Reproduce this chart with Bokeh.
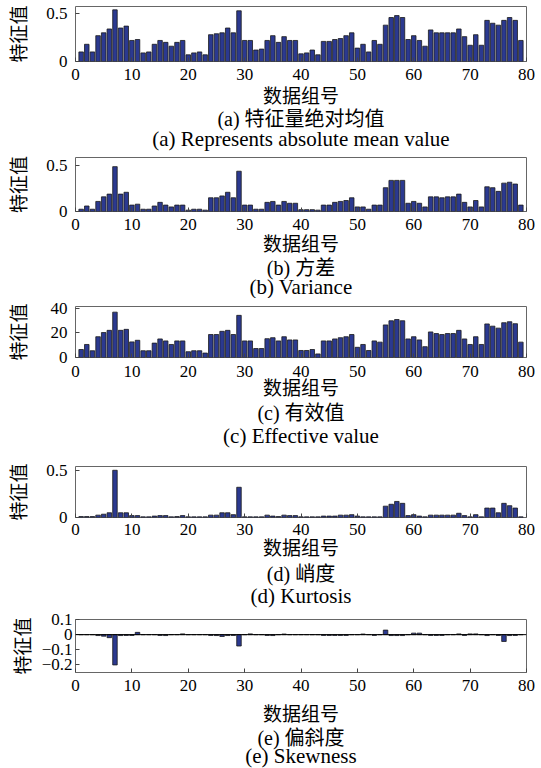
from bokeh.plotting import figure
from bokeh.layouts import column
from bokeh.models import Title, FixedTicker, Range1d, Span
from bokeh.embed import file_html
from bokeh.resources import INLINE

groups = list(range(1, 80))

mean_abs = [0.10, 0.18, 0.10, 0.27, 0.30, 0.34, 0.54, 0.35, 0.37, 0.22,
            0.23, 0.09, 0.10, 0.18, 0.22, 0.20, 0.16, 0.20, 0.22, 0.07,
            0.09, 0.10, 0.07, 0.28, 0.29, 0.30, 0.35, 0.30, 0.53, 0.22,
            0.22, 0.12, 0.13, 0.22, 0.27, 0.20, 0.26, 0.22, 0.22, 0.08,
            0.09, 0.12, 0.07, 0.21, 0.21, 0.23, 0.24, 0.27, 0.30, 0.14,
            0.18, 0.10, 0.22, 0.18, 0.38, 0.46, 0.48, 0.46, 0.23, 0.27,
            0.22, 0.16, 0.33, 0.30, 0.30, 0.30, 0.30, 0.34, 0.26, 0.17,
            0.28, 0.17, 0.43, 0.40, 0.38, 0.43, 0.46, 0.43, 0.22]

variance = [0.025, 0.06, 0.025, 0.11, 0.16, 0.19, 0.49, 0.19, 0.21, 0.07,
            0.08, 0.025, 0.025, 0.06, 0.10, 0.07, 0.05, 0.07, 0.07, 0.015,
            0.025, 0.025, 0.015, 0.15, 0.15, 0.17, 0.21, 0.15, 0.44, 0.07,
            0.07, 0.025, 0.025, 0.10, 0.11, 0.07, 0.11, 0.09, 0.09, 0.02,
            0.02, 0.02, 0.015, 0.07, 0.07, 0.10, 0.11, 0.12, 0.15, 0.05,
            0.05, 0.025, 0.07, 0.07, 0.26, 0.34, 0.34, 0.34, 0.09, 0.11,
            0.09, 0.05, 0.16, 0.16, 0.15, 0.16, 0.16, 0.19, 0.10, 0.05,
            0.12, 0.05, 0.27, 0.26, 0.22, 0.31, 0.32, 0.30, 0.07]

effective = [6.5, 10.6, 5.5, 16.9, 20.3, 22.1, 36.9, 22.1, 22.9, 12.7,
             14.0, 5.5, 5.5, 11.7, 15.1, 13.5, 10.6, 13.5, 13.5, 4.7,
             5.5, 5.5, 3.6, 18.7, 18.7, 21.3, 22.1, 18.7, 34.3, 13.5,
             13.5, 7.3, 7.3, 15.3, 16.1, 13.5, 16.9, 14.3, 14.3, 5.7,
             5.7, 6.5, 2.9, 13.5, 13.5, 15.1, 16.1, 16.9, 18.7, 8.3,
             10.6, 5.7, 13.5, 12.5, 26.5, 29.9, 30.9, 29.9, 15.1, 16.9,
             14.3, 8.8, 20.8, 19.5, 18.7, 19.5, 19.5, 22.1, 15.1, 10.6,
             16.9, 10.6, 27.3, 25.5, 23.9, 28.3, 29.1, 27.5, 12.5]

kurtosis = [0.01, 0.01, 0.01, 0.025, 0.035, 0.05, 0.50, 0.05, 0.05, 0.02,
            0.02, 0.007, 0.007, 0.015, 0.02, 0.02, 0.007, 0.01, 0.02, 0.007,
            0.007, 0.007, 0.007, 0.025, 0.025, 0.05, 0.05, 0.03, 0.32, 0.007,
            0.007, 0.007, 0.007, 0.025, 0.015, 0.01, 0.025, 0.02, 0.02, 0.007,
            0.007, 0.007, 0.007, 0.015, 0.015, 0.015, 0.025, 0.025, 0.03, 0.015,
            0.007, 0.007, 0.007, 0.007, 0.12, 0.14, 0.17, 0.15, 0.02, 0.03,
            0.015, 0.007, 0.025, 0.025, 0.025, 0.025, 0.025, 0.045, 0.02, 0.007,
            0.03, 0.007, 0.10, 0.10, 0.05, 0.15, 0.125, 0.10, 0.007]

skewness = [0, 0, 0, -0.006, -0.01, -0.02, -0.20, -0.006, -0.005, -0.005,
            0.015, 0, 0, 0, -0.005, -0.006, 0, 0, 0.005, 0,
            0, 0, 0, -0.005, -0.006, -0.012, -0.006, -0.005, -0.075, 0,
            0.005, 0, 0, -0.005, -0.006, 0, 0.004, 0, 0, 0,
            0, 0, 0, -0.005, -0.005, -0.005, -0.005, -0.005, 0, 0,
            0.004, 0, -0.005, 0, 0.03, -0.006, -0.006, -0.006, 0, 0.01,
            0.01, 0, -0.005, -0.005, -0.005, 0, 0, 0.005, -0.005, 0.005,
            0.005, 0, -0.006, 0, -0.005, -0.045, -0.006, -0.005, 0]

x_ticks = [0, 10, 20, 30, 40, 50, 60, 70, 80]
x_label = "数据组号"
y_label = "特征值"

SERIF = "Liberation Serif"
MIXED = "Liberation Serif, Noto Sans CJK SC"
CJK = "Noto Sans CJK SC"
BAR_FILL = "#2B3990"


def make_panel(values, height, top, bottom, ymax, ymin, yticks, ylabels,
               ylab_standoff, ytick_standoff, xtick_standoff, xlab_standoff,
               cap1, cap2, cap1_standoff, cap2_standoff, zero_line=False):
    p = figure(width=541, height=height, output_backend="svg",
               toolbar_location=None, x_range=Range1d(0, 80),
               y_range=Range1d(ymin, ymax),
               min_border_left=71, min_border_right=15,
               min_border_top=top, min_border_bottom=bottom)
    p.vbar(x=groups, top=values, width=0.8, bottom=0,
           fill_color=BAR_FILL, line_color="#1a1a1a", line_width=0.8)
    if zero_line:
        p.add_layout(Span(location=0, dimension="width",
                          line_color="black", line_width=1))
    p.grid.visible = False
    p.outline_line_color = "#666666"
    p.outline_line_width = 1
    p.background_fill_color = "white"
    p.border_fill_color = "white"

    xa = p.xaxis[0]
    xa.ticker = FixedTicker(ticks=x_ticks)
    xa.major_tick_in = 4
    xa.major_tick_out = 0
    xa.minor_tick_line_color = None
    xa.axis_line_color = None
    xa.major_tick_line_color = "#444444"
    xa.major_label_text_font = SERIF
    xa.major_label_text_font_size = "17px"
    xa.major_label_text_color = "black"
    xa.major_label_standoff = xtick_standoff
    xa.axis_label = x_label
    xa.axis_label_text_font = CJK
    xa.axis_label_text_font_size = "19px"
    xa.axis_label_text_font_style = "normal"
    xa.axis_label_text_color = "black"
    xa.axis_label_standoff = xlab_standoff

    ya = p.yaxis[0]
    ya.ticker = FixedTicker(ticks=yticks)
    ya.major_label_overrides = ylabels
    ya.major_tick_in = 4
    ya.major_tick_out = 0
    ya.minor_tick_line_color = None
    ya.axis_line_color = None
    ya.major_tick_line_color = "#444444"
    ya.major_label_text_font = SERIF
    ya.major_label_text_font_size = "17px"
    ya.major_label_text_color = "black"
    ya.major_label_standoff = ytick_standoff
    ya.axis_label = y_label
    ya.axis_label_text_font = CJK
    ya.axis_label_text_font_size = "19px"
    ya.axis_label_text_font_style = "normal"
    ya.axis_label_text_color = "black"
    ya.axis_label_standoff = ylab_standoff

    t1 = Title(text=cap1, align="center", text_font=MIXED,
               text_font_size="20px", text_font_style="normal",
               text_color="black", standoff=cap1_standoff, offset=12)
    t2 = Title(text=cap2, align="center", text_font=SERIF,
               text_font_size="21px", text_font_style="normal",
               text_color="black", standoff=cap2_standoff, offset=12)
    p.add_layout(t1, "below")
    p.add_layout(t2, "below")
    return p


p1 = make_panel(mean_abs, 152, 6, 91, 0.575, 0, [0, 0.5], {0: "0", 0.5: "0.5"},
                12, 8, 7, -2, "(a) 特征量绝对均值", "(a) Represents absolute mean value", -9, -2.5)
p2 = make_panel(variance, 146, 5, 87, 0.59, 0, [0, 0.5], {0: "0", 0.5: "0.5"},
                12, 8, 7, -4, "(b) 方差", "(b) Variance", -7, -6.5)
p3 = make_panel(effective, 152, 8, 93, 41.5, 0, [0, 20, 40], {0: "0", 20: "20", 40: "40"},
                17, 8, 8, -7, "(c) 有效值", "(c) Effective value", -6, 2.5)
p4 = make_panel(kurtosis, 158, 16, 91, 0.54, 0, [0, 0.5], {0: "0", 0.5: "0.5"},
                12, 8, 6, -5, "(d) 峭度", "(d) Kurtosis", -4, -1.5)
p5 = make_panel(skewness, 160, 11, 96, 0.1, -0.25, [-0.2, -0.1, 0, 0.1],
                {-0.2: "\u22120.2", -0.1: "\u22120.1", 0: "0", 0.1: "0.1"},
                4, 3, 7, 5, "(e) 偏斜度", "(e) Skewness", -7, -7.5, zero_line=True)

layout = column(p1, p2, p3, p4, p5, spacing=0)
open("out.html", "w").write(file_html(layout, INLINE))
